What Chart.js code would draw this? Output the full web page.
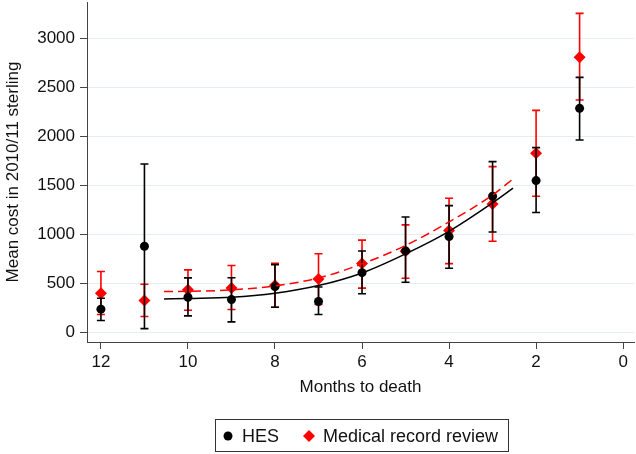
<!DOCTYPE html>
<html lang="en">
<head>
<meta charset="UTF-8">
<title>Mean cost by months to death</title>
<script src="https://cdn.jsdelivr.net/npm/chart.js"></script>
<style>
    body { margin: 0; padding: 0; background: #fff; }
    canvas { display: block; }
</style>
</head>
<body>
<canvas id="costChart" width="636" height="454"></canvas>
<script>
    // values
    var months = [12, 11, 10, 9, 8, 7, 6, 5, 4, 3, 2, 1];
    var hesMean = [235, 877, 357, 333, 465, 313, 608, 830, 976, 1387, 1547, 2285];
    var hesLow = [119, 37, 167, 105, 255, 180, 393, 510, 653, 1023, 1221, 1962];
    var hesHigh = [347, 1717, 554, 556, 690, 462, 828, 1176, 1292, 1741, 1884, 2601];
    var mrrMean = [398, 323, 432, 452, 478, 544, 702, 826, 1037, 1309, 1826, 2805];
    var mrrLow = [180, 160, 224, 231, 254, 282, 450, 551, 700, 928, 1387, 2370];
    var mrrHigh = [619, 490, 636, 680, 702, 800, 940, 1095, 1367, 1690, 2264, 3254];

    // fitted curves
    var fitMonths = [10.55, 10, 9, 8, 7, 6, 5, 4, 3, 2.53];
    var hesFit = [340, 345, 357, 398, 476, 605, 800, 1030, 1320, 1470];
    var mrrFit = [415, 417, 432, 473, 554, 697, 885, 1125, 1400, 1564];

    var xTicks = [12, 10, 8, 6, 4, 2, 0];
    var yTicks = [0, 500, 1000, 1500, 2000, 2500, 3000];

    var FONT = 'Arial, "Liberation Sans", sans-serif';

    function pts(xs, ys) {
        return xs.map(function (x, i) { return { x: x, y: ys[i] }; });
    }

    // vertical error bars, drawn just before the markers of their dataset
    var errorBars = {
        id: 'errorBars',
        beforeDatasetDraw: function (chart, args) {
            var ds = chart.data.datasets[args.index];
            if (!ds.low) return;
            var ctx = chart.ctx;
            var xs = chart.scales.x, ys = chart.scales.y;
            ctx.save();
            ctx.strokeStyle = ds.barColor;
            ctx.lineWidth = 1.6;
            ds.data.forEach(function (p, i) {
                var px = xs.getPixelForValue(p.x);
                var lo = ys.getPixelForValue(ds.low[i]);
                var hi = ys.getPixelForValue(ds.high[i]);
                ctx.beginPath();
                ctx.moveTo(px, lo); ctx.lineTo(px, hi);
                ctx.moveTo(px - 4, lo); ctx.lineTo(px + 4, lo);
                ctx.moveTo(px - 4, hi); ctx.lineTo(px + 4, hi);
                ctx.stroke();
            });
            ctx.restore();
        }
    };

    // boxed legend under the axis title
    var boxLegend = {
        id: 'boxLegend',
        afterDraw: function (chart) {
            var ctx = chart.ctx;
            ctx.save();
            ctx.strokeStyle = '#333';
            ctx.lineWidth = 1;
            ctx.strokeRect(215.5, 419.5, 293, 32);
            var cy = 436;
            ctx.fillStyle = '#000';
            ctx.beginPath();
            ctx.arc(228, cy, 4.5, 0, Math.PI * 2);
            ctx.fill();
            ctx.fillStyle = '#ff0000';
            ctx.beginPath();
            ctx.moveTo(309, cy - 6); ctx.lineTo(315, cy); ctx.lineTo(309, cy + 6); ctx.lineTo(303, cy);
            ctx.closePath();
            ctx.fill();
            ctx.fillStyle = '#111';
            ctx.font = '18px ' + FONT;
            ctx.textBaseline = 'middle';
            ctx.fillText(chart.data.datasets[2].label, 242, cy + 1);
            ctx.fillText(chart.data.datasets[3].label, 323, cy + 1);
            ctx.restore();
        }
    };

    var ctx = document.getElementById('costChart').getContext('2d');
    var costChart = new Chart(ctx, {
        type: 'scatter',
        data: {
            datasets: [
                {
                    label: 'HES fit',
                    type: 'line',
                    data: pts(fitMonths, hesFit),
                    borderColor: '#000',
                    borderWidth: 1.5,
                    pointRadius: 0,
                    fill: false,
                    cubicInterpolationMode: 'monotone'
                },
                {
                    label: 'Medical record review fit',
                    type: 'line',
                    data: pts(fitMonths, mrrFit),
                    borderColor: '#ff0000',
                    borderWidth: 1.5,
                    borderDash: [9, 5],
                    pointRadius: 0,
                    fill: false,
                    cubicInterpolationMode: 'monotone'
                },
                {
                    label: 'HES',
                    data: pts(months, hesMean),
                    low: hesLow,
                    high: hesHigh,
                    barColor: '#000',
                    backgroundColor: '#000',
                    borderWidth: 0,
                    pointRadius: 4.5,
                    pointStyle: 'circle'
                },
                {
                    label: 'Medical record review',
                    data: pts(months, mrrMean),
                    low: mrrLow,
                    high: mrrHigh,
                    barColor: '#ff0000',
                    backgroundColor: '#ff0000',
                    borderWidth: 0,
                    pointRadius: 6,
                    pointStyle: 'rectRot'
                }
            ]
        },
        options: {
            responsive: false,
            animation: false,
            layout: { autoPadding: false, padding: { left: 0, right: 2, top: 2, bottom: 52 } },
            plugins: {
                legend: { display: false },
                tooltip: { enabled: false }
            },
            scales: {
                x: {
                    type: 'linear',
                    reverse: true,
                    min: -0.25,
                    max: 12.32,
                    afterBuildTicks: function (s) { s.ticks = xTicks.map(function (v) { return { value: v }; }); },
                    afterFit: function (s) { s.height = 60; s.paddingLeft = 0; s.paddingRight = 0; },
                    grid: { drawOnChartArea: false, drawTicks: true, tickLength: 7, tickColor: '#444' },
                    border: { color: '#444', width: 1 },
                    ticks: { color: '#111', font: { family: FONT, size: 17 }, padding: 3, maxRotation: 0 },
                    title: {
                        display: true,
                        text: 'Months to death',
                        color: '#111',
                        font: { family: FONT, size: 17 },
                        padding: { top: 4, bottom: 4 }
                    }
                },
                y: {
                    min: -100,
                    max: 3370,
                    afterBuildTicks: function (s) { s.ticks = yTicks.map(function (v) { return { value: v }; }); },
                    afterFit: function (s) { s.width = 87; s.paddingTop = 0; s.paddingBottom = 0; },
                    grid: { color: '#e4eef0', lineWidth: 1, drawTicks: true, tickLength: 7, tickColor: '#444' },
                    border: { color: '#444', width: 1 },
                    ticks: {
                        color: '#111',
                        font: { family: FONT, size: 17 },
                        padding: 5,
                        callback: function (v) { return String(v); }
                    },
                    title: {
                        display: true,
                        text: 'Mean cost in 2010/11 sterling',
                        color: '#111',
                        font: { family: FONT, size: 17 },
                        padding: { top: 3, bottom: 0 }
                    }
                }
            }
        },
        plugins: [errorBars, boxLegend]
    });
</script>
</body>
</html>
